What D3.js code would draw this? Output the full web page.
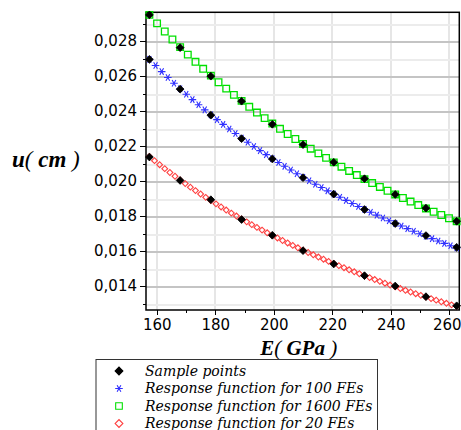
<!DOCTYPE html>
<html lang="en">

<head>
    <meta charset="UTF-8">
    <style type="text/css">
        body {
            margin: 0;
            background: #fff;
        }

        .axis path {
            display: none;
        }

        .axis line {
            stroke: #000;
            shape-rendering: crispEdges;
        }

        .axis text {
            font-family: "DejaVu Sans", sans-serif;
            font-size: 15px;
            fill: #000;
        }

        .grid line {
            shape-rendering: crispEdges;
        }

        .title {
            font-family: "Liberation Serif", serif;
            font-style: italic;
            font-weight: bold;
            fill: #000;
        }

        .legend text {
            font-family: "DejaVu Serif", serif;
            font-style: italic;
            font-size: 14px;
            fill: #000;
        }
    </style>
</head>

<body>
    <div class='main'></div>

    <script src="https://cdn.jsdelivr.net/npm/d3@7"></script>
    <script type="text/javascript">

        // sample points (E in GPa, u in cm), three sets
        var sampleE = [157.5, 168, 178.5, 189, 199.5, 210, 220.5, 231, 241.5, 252, 262.5];
        var sampleTop = [0.02949, 0.02762, 0.02599, 0.02456, 0.02324, 0.02208, 0.02107, 0.02013, 0.01923, 0.01845, 0.01770];
        var sampleMid = [0.02695, 0.02525, 0.02376, 0.02242, 0.02126, 0.02019, 0.01925, 0.01837, 0.01757, 0.01688, 0.01621];
        var sampleLow = [0.02137, 0.02003, 0.01893, 0.01780, 0.01690, 0.01602, 0.01526, 0.01459, 0.01400, 0.01339, 0.01287];

        // response function for 1600 FEs (green squares)
        var e1600 = [157.5, 160.125, 162.75, 165.375, 168, 170.625, 173.25, 175.875, 178.5, 181.125, 183.75,
            186.375, 189, 191.625, 194.25, 196.875, 199.5, 202.125, 204.75, 207.375, 210, 212.625, 215.25,
            217.875, 220.5, 223.125, 225.75, 228.375, 231, 233.625, 236.25, 238.875, 241.5, 244.125, 246.75,
            249.375, 252, 254.625, 257.25, 259.875, 262.5];
        var u1600 = [0.029492, 0.029009, 0.028541, 0.028088, 0.027649, 0.027223, 0.026811, 0.026411, 0.026022,
            0.025645, 0.025279, 0.024923, 0.024577, 0.024240, 0.023912, 0.023594, 0.023283, 0.022981, 0.022686,
            0.022399, 0.022119, 0.021846, 0.021580, 0.021320, 0.021066, 0.020818, 0.020576, 0.020339, 0.020108,
            0.019882, 0.019661, 0.019445, 0.019234, 0.019027, 0.018825, 0.018626, 0.018433, 0.018242, 0.018056,
            0.017874, 0.017695];

        // response function for 100 FEs (blue stars)
        var e100 = [157.5, 159.6, 161.7, 163.8, 165.9, 168, 170.1, 172.2, 174.3, 176.4, 178.5, 180.6, 182.7,
            184.8, 186.9, 189, 191.1, 193.2, 195.3, 197.4, 199.5, 201.6, 203.7, 205.8, 207.9, 210, 212.1, 214.2,
            216.3, 218.4, 220.5, 222.6, 224.7, 226.8, 228.9, 231, 233.1, 235.2, 237.3, 239.4, 241.5, 243.6,
            245.7, 247.8, 249.9, 252, 254.1, 256.2, 258.3, 260.4, 262.5];
        var u100 = [0.026952, 0.026597, 0.026252, 0.025916, 0.025588, 0.025268, 0.024956, 0.024652, 0.024355,
            0.024065, 0.023782, 0.023505, 0.023235, 0.022971, 0.022713, 0.022460, 0.022213, 0.021972, 0.021736,
            0.021505, 0.021278, 0.021057, 0.020839, 0.020627, 0.020418, 0.020214, 0.020014, 0.019818, 0.019626,
            0.019437, 0.019252, 0.019070, 0.018892, 0.018717, 0.018545, 0.018377, 0.018211, 0.018048, 0.017889,
            0.017732, 0.017578, 0.017426, 0.017277, 0.017131, 0.016987, 0.016845, 0.016706, 0.016569, 0.016435,
            0.016302, 0.016171];

        // response function for 20 FEs (red diamonds)
        var e20 = [157.5, 159.25, 161, 162.75, 164.5, 166.25, 168, 169.75, 171.5, 173.25, 175, 176.75, 178.5,
            180.25, 182, 183.75, 185.5, 187.25, 189, 190.75, 192.5, 194.25, 196, 197.75, 199.5, 201.25, 203,
            204.75, 206.5, 208.25, 210, 211.75, 213.5, 215.25, 217, 218.75, 220.5, 222.25, 224, 225.75, 227.5,
            229.25, 231, 232.75, 234.5, 236.25, 238, 239.75, 241.5, 243.25, 245, 246.75, 248.5, 250.25, 252,
            253.75, 255.5, 257.25, 259, 260.75, 262.5];
        var u20 = [0.021397, 0.021162, 0.020932, 0.020707, 0.020486, 0.020271, 0.020060, 0.019853, 0.019650,
            0.019452, 0.019257, 0.019066, 0.018880, 0.018696, 0.018516, 0.018340, 0.018167, 0.017997, 0.017831,
            0.017667, 0.017506, 0.017349, 0.017194, 0.017042, 0.016892, 0.016745, 0.016601, 0.016459, 0.016320,
            0.016183, 0.016048, 0.015915, 0.015785, 0.015656, 0.015530, 0.015406, 0.015283, 0.015163, 0.015045,
            0.014928, 0.014813, 0.014700, 0.014589, 0.014479, 0.014371, 0.014265, 0.014160, 0.014056, 0.013954,
            0.013854, 0.013755, 0.013658, 0.013561, 0.013467, 0.013373, 0.013281, 0.013190, 0.013100, 0.013012,
            0.012924, 0.012838];

        var xTicks = [160, 180, 200, 220, 240, 260];
        var xMinor = [170, 190, 210, 230, 250];
        var yTicks = [0.014, 0.016, 0.018, 0.020, 0.022, 0.024, 0.026, 0.028];
        var yMinor = [0.013, 0.015, 0.017, 0.019, 0.021, 0.023, 0.025, 0.027, 0.029];

        var legendLabels = ["Sample points", "Response function for 100 FEs",
            "Response function for 1600 FEs", "Response function for 20 FEs"];

        var W = 461, H = 430;
        var plot = { left: 146, right: 459.3, top: 12.3, bottom: 310 };

        var svg = d3.select(".main").append("svg")
            .attr("width", W)
            .attr("height", H);

        var x = d3.scaleLinear()
            .domain([156.34, 263.4])
            .range([plot.left, plot.right]);

        var y = d3.scaleLinear()
            .domain([0.012629, 0.02964])
            .range([plot.bottom, plot.top]);

        var comma = function (d) { return d3.format(".3f")(d).replace(".", ","); };

        // grid
        var grid = svg.append("g").attr("class", "grid");
        grid.selectAll(".vg").data(xTicks).enter().append("line")
            .attr("x1", function (d) { return x(d); })
            .attr("x2", function (d) { return x(d); })
            .attr("y1", plot.top).attr("y2", plot.bottom)
            .style("stroke", "#e6e6e6").style("stroke-width", 2);
        grid.selectAll(".hm").data(yMinor).enter().append("line")
            .attr("x1", plot.left).attr("x2", plot.right)
            .attr("y1", function (d) { return Math.round(y(d)) + 0.5; })
            .attr("y2", function (d) { return Math.round(y(d)) + 0.5; })
            .style("stroke", "#ececec").style("stroke-width", 2);
        grid.selectAll(".hg").data(yTicks).enter().append("line")
            .attr("x1", plot.left).attr("x2", plot.right)
            .attr("y1", function (d) { return Math.round(y(d)) + 0.5; })
            .attr("y2", function (d) { return Math.round(y(d)) + 0.5; })
            .style("stroke", "#c4c4c4").style("stroke-width", 2);

        // axes
        var xAxisG = svg.append("g")
            .attr("class", "axis")
            .attr("transform", "translate(0," + plot.bottom + ")")
            .call(d3.axisBottom(x).tickValues(xTicks).tickSize(5).tickPadding(4).tickFormat(d3.format("d")));
        // keep the last label inside the window
        xAxisG.selectAll("text").filter(function (d) { return d === 260; }).attr("dx", "-2.5");

        svg.append("g")
            .attr("class", "axis")
            .attr("transform", "translate(0," + plot.bottom + ")")
            .call(d3.axisBottom(x).tickValues(xMinor).tickSize(3).tickFormat(""));
        svg.append("g")
            .attr("class", "axis")
            .attr("transform", "translate(" + plot.left + ",0)")
            .call(d3.axisLeft(y).tickValues(yTicks).tickSize(6).tickPadding(3).tickFormat(comma));
        svg.append("g")
            .attr("class", "axis")
            .attr("transform", "translate(" + plot.left + ",0)")
            .call(d3.axisLeft(y).tickValues(yMinor.filter(function (d) { return y(d) > plot.top; }))
                .tickSize(3).tickFormat(""));

        // frame
        svg.append("rect")
            .attr("x", plot.left)
            .attr("y", plot.top)
            .attr("width", plot.right - plot.left)
            .attr("height", plot.bottom - plot.top)
            .style("fill", "none")
            .style("stroke", "#000")
            .style("stroke-width", 1.5);

        var star = d3.symbol().type(d3.symbolAsterisk).size(40);
        var square = d3.symbol().type(d3.symbolSquare).size(44);
        var diamondRed = d3.symbol().type(d3.symbolSquare).size(17);
        var diamondBlack = d3.symbol().type(d3.symbolSquare).size(30);

        var marks = svg.append("g");

        function drawSeries(es, us, path, fill, stroke, width, rot) {
            marks.append("g").selectAll("path")
                .data(d3.zip(es, us))
                .enter().append("path")
                .attr("d", path)
                .attr("transform", function (d) {
                    return "translate(" + x(d[0]) + "," + y(d[1]) + ")" + (rot ? " rotate(" + rot + ")" : "");
                })
                .style("fill", fill)
                .style("stroke", stroke)
                .style("stroke-width", width);
        }

        drawSeries(e1600, u1600, square(), "none", "#00e000", 1.3, 0);
        drawSeries(e100, u100, star(), "none", "#3030ff", 1.1, 90);
        drawSeries(e20, u20, diamondRed(), "none", "#ff4040", 1.1, 45);
        drawSeries(sampleE, sampleTop, diamondBlack(), "#000", "#000", 0.8, 45);
        drawSeries(sampleE, sampleMid, diamondBlack(), "#000", "#000", 0.8, 45);
        drawSeries(sampleE, sampleLow, diamondBlack(), "#000", "#000", 0.8, 45);

        // axis titles
        var yt = svg.append("text")
            .attr("class", "title")
            .attr("x", 12)
            .attr("y", 167)
            .style("font-size", "23px");
        yt.append("tspan").text("u");
        yt.append("tspan").style("font-weight", "normal").text("( ");
        yt.append("tspan").text("cm");
        yt.append("tspan").style("font-weight", "normal").text(" )");

        var xt = svg.append("text")
            .attr("class", "title")
            .attr("x", (plot.left + plot.right) / 2 - 4)
            .attr("y", 355)
            .style("font-size", "21px")
            .style("text-anchor", "middle");
        xt.append("tspan").text("E");
        xt.append("tspan").style("font-weight", "normal").text("( ");
        xt.append("tspan").text("GPa");
        xt.append("tspan").style("font-weight", "normal").text(" )");

        // legend
        var legend = svg.append("g")
            .attr("class", "legend")
            .attr("transform", "translate(96,359.5)");

        legend.append("rect")
            .attr("width", 281.5)
            .attr("height", 90)
            .style("fill", "#fff")
            .style("stroke", "#333")
            .style("stroke-width", 1);

        var legendMarks = [
            { p: diamondBlack(), fill: "#000", stroke: "#000", rot: 45 },
            { p: star(), fill: "none", stroke: "#3030ff", rot: 90 },
            { p: square(), fill: "none", stroke: "#00e000", rot: 0 },
            { p: d3.symbol().type(d3.symbolSquare).size(30)(), fill: "none", stroke: "#ff4040", rot: 45 }
        ];

        var row = legend.selectAll(".row")
            .data(legendLabels)
            .enter().append("g")
            .attr("transform", function (d, i) { return "translate(0," + (11.5 + i * 17.5) + ")"; });

        row.append("path")
            .attr("d", function (d, i) { return legendMarks[i].p; })
            .attr("transform", function (d, i) { return "translate(23,0) rotate(" + legendMarks[i].rot + ")"; })
            .style("fill", function (d, i) { return legendMarks[i].fill; })
            .style("stroke", function (d, i) { return legendMarks[i].stroke; })
            .style("stroke-width", 1.1);

        row.append("text")
            .attr("x", 49)
            .attr("dy", "0.35em")
            .text(function (d) { return d; });

    </script>
</body>

</html>
